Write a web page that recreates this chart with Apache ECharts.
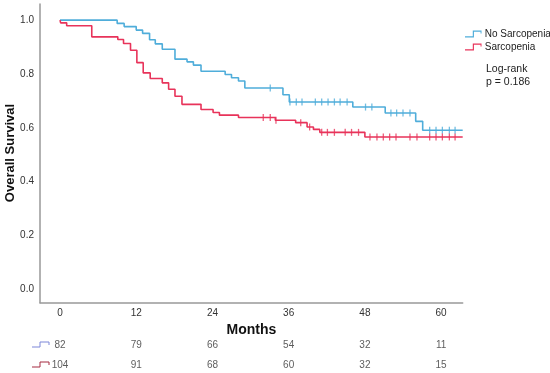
<!DOCTYPE html>
<html><head><meta charset="utf-8">
<script src="https://cdn.jsdelivr.net/npm/echarts@6/dist/echarts.min.js"></script>
<style>html,body{margin:0;padding:0;background:#fff}#c{width:550px;height:373px}</style>
</head><body><div id="c"></div>
<script>
// --- data ---
const groupNames = ['No Sarcopenia', 'Sarcopenia'];
const noSarcTimes = [0, 9.0, 10.1, 12.0, 13.0, 14.1, 15.0, 16.1, 18.1, 20.0, 21.0, 22.2, 26.0, 27.0, 28.1, 29.1, 35.1, 36.1, 46.1, 51.2, 56.0, 57.1, 63.4];
const noSarcSurv  = [1.0, 0.988, 0.976, 0.963, 0.951, 0.927, 0.912, 0.892, 0.855, 0.845, 0.833, 0.810, 0.798, 0.786, 0.774, 0.748, 0.723, 0.696, 0.677, 0.655, 0.624, 0.591, 0.591];
const noSarcCensor = [33.1, 36.2, 37.2, 38.1, 40.2, 41.2, 42.2, 43.2, 44.1, 45.2, 48.1, 49.1, 52.1, 53.0, 54.0, 55.1, 58.2, 59.2, 60.2, 61.3, 62.2];
const sarcTimes = [0, 0.1, 1.05, 5.0, 9.1, 10.0, 11.1, 12.1, 13.1, 14.2, 16.1, 17.1, 18.1, 19.2, 22.2, 24.1, 25.1, 28.1, 33.9, 37.1, 38.9, 39.9, 40.9, 48.0, 63.4];
const sarcSurv  = [1.0, 0.990, 0.979, 0.938, 0.928, 0.913, 0.888, 0.842, 0.804, 0.783, 0.767, 0.743, 0.717, 0.687, 0.668, 0.657, 0.647, 0.638, 0.628, 0.619, 0.603, 0.594, 0.583, 0.566, 0.566];
const sarcCensor = [32.0, 33.1, 34.0, 37.9, 39.3, 41.2, 42.1, 43.2, 44.9, 45.9, 47.0, 48.8, 49.9, 50.9, 51.9, 52.9, 55.1, 56.2, 58.2, 59.2, 60.2, 61.3, 62.2];
const riskTimes = [0, 12, 24, 36, 48, 60];
const riskNoSarc = [82, 79, 66, 54, 32, 11];
const riskSarc = [104, 91, 68, 60, 32, 15];
const yTicks = [0, 0.2, 0.4, 0.6, 0.8, 1.0];
const yTitle = 'Overall Survival';
const logRankText = ['Log-rank', 'p = 0.186'];

const BLUE = '#4fadda', RED = '#e8335a';
const FONT = 'Liberation Sans, Arial, sans-serif';

function curve(ts, ss) { return ts.map((t, i) => [t, ss[i]]); }
function survAt(ts, ss, t) { let s = ss[0]; for (let i = 0; i < ts.length; i++) { if (ts[i] <= t) s = ss[i]; } return s; }
function censorPts(cs, ts, ss) { return cs.map(t => [t, survAt(ts, ss, t)]); }

const stepIcon = 'path://M0,6 L8,6 L8,0 L17,0 L17,3 L16,3 L16,1.2 L9.2,1.2 L9.2,7.2 L0,7.2 Z';

const chart = echarts.init(document.getElementById('c'));
chart.setOption({
  animation: false,
  textStyle: { fontFamily: FONT },
  grid: [
    { left: 40, top: 4, width: 422.7, height: 298.7, containLabel: false, outerBoundsMode: 'none' },
    { left: 40, top: 335, width: 422.7, height: 40, containLabel: false, outerBoundsMode: 'none' }
  ],
  xAxis: [{
    type: 'value', gridIndex: 0, min: -3.15, max: 63.4,
    name: 'Months', nameLocation: 'middle', nameGap: 18,
    nameTextStyle: { fontSize: 14, fontWeight: 'bold', color: '#111', fontFamily: FONT },
    axisLine: { show: true, onZero: false, lineStyle: { color: '#999', width: 1.5 } },
    axisTick: { show: false }, splitLine: { show: false },
    axisLabel: { customValues: riskTimes, fontSize: 10, color: '#333', margin: 6, fontFamily: FONT }
  }, {
    type: 'value', gridIndex: 1, min: -3.15, max: 63.4, show: false
  }],
  yAxis: [{
    type: 'value', gridIndex: 0, min: -0.05, max: 1.06,
    axisLine: { show: true, onZero: false, lineStyle: { color: '#999', width: 1.5 } },
    axisTick: { show: false }, splitLine: { show: false },
    axisLabel: { customValues: yTicks, formatter: v => v.toFixed(1), fontSize: 10, color: '#333', margin: 6, fontFamily: FONT }
  }, {
    type: 'value', gridIndex: 1, min: 0, max: 1, inverse: true, show: false
  }],
  legend: {
    show: true, orient: 'vertical', left: 465, top: 29, itemGap: 3, padding: 0,
    itemWidth: 17, itemHeight: 7,
    textStyle: { fontSize: 10, color: '#222', fontFamily: FONT, padding: [0, 0, 0, -2], overflow: 'none', width: 80 },
    data: [{ name: groupNames[0], icon: stepIcon }, { name: groupNames[1], icon: stepIcon }]
  },
  graphic: [
    { type: 'text', x: 10, y: 153, rotation: Math.PI / 2, style: { text: yTitle, fontSize: 13, fontWeight: 'bold', fill: '#111', fontFamily: FONT, align: 'center', verticalAlign: 'middle' } },
    { type: 'text', left: 486, top: 63, style: { text: logRankText.join('\n'), fontSize: 10.5, lineHeight: 13, fill: '#222', fontFamily: FONT } },
    { type: 'polyline', shape: { points: [[32, 347], [40, 347], [40, 342], [49, 342], [49, 345]] }, style: { stroke: '#7d87d8', lineWidth: 1, fill: null } },
    { type: 'polyline', shape: { points: [[32, 367], [40, 367], [40, 362], [49, 362], [49, 365]] }, style: { stroke: '#a52a40', lineWidth: 1, fill: null } }
  ],
  series: [
    { name: groupNames[0], type: 'line', step: 'end', xAxisIndex: 0, yAxisIndex: 0, data: curve(noSarcTimes, noSarcSurv), showSymbol: false, symbol: 'none', lineStyle: { color: BLUE, width: 1.6 }, itemStyle: { color: BLUE } },
    { name: groupNames[1], type: 'line', step: 'end', xAxisIndex: 0, yAxisIndex: 0, data: curve(sarcTimes, sarcSurv), showSymbol: false, symbol: 'none', lineStyle: { color: RED, width: 1.6 }, itemStyle: { color: RED } },
    { type: 'scatter', xAxisIndex: 0, yAxisIndex: 0, data: censorPts(noSarcCensor, noSarcTimes, noSarcSurv), symbol: 'rect', symbolSize: [1.3, 7], itemStyle: { color: BLUE }, silent: true },
    { type: 'scatter', xAxisIndex: 0, yAxisIndex: 0, data: censorPts(sarcCensor, sarcTimes, sarcSurv), symbol: 'rect', symbolSize: [1.3, 7], itemStyle: { color: RED }, silent: true },
    { type: 'scatter', xAxisIndex: 1, yAxisIndex: 1, symbolSize: 0,
      data: riskTimes.map((t, i) => [t, 0.25, riskNoSarc[i]]),
      label: { show: true, position: 'inside', formatter: p => p.value[2], fontSize: 10, color: '#333', fontFamily: FONT } },
    { type: 'scatter', xAxisIndex: 1, yAxisIndex: 1, symbolSize: 0,
      data: riskTimes.map((t, i) => [t, 0.75, riskSarc[i]]),
      label: { show: true, position: 'inside', formatter: p => p.value[2], fontSize: 10, color: '#333', fontFamily: FONT } }
  ]
});
</script></body></html>
